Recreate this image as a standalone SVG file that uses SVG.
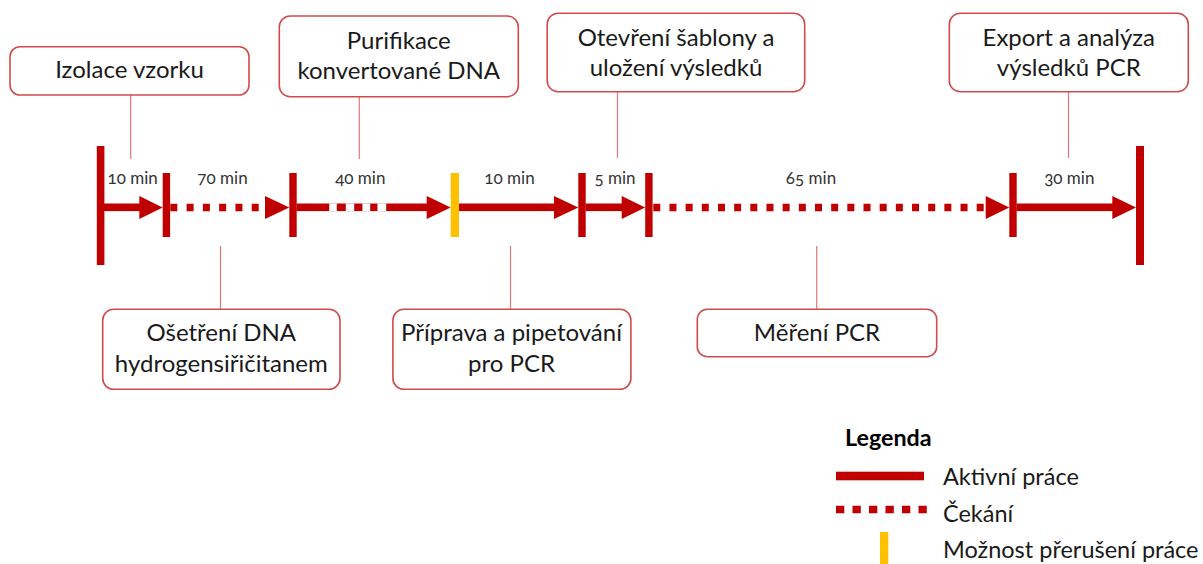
<svg xmlns="http://www.w3.org/2000/svg" width="1203" height="564" viewBox="0 0 1203 564">
<style>
.box{fill:#fff;stroke:#D24B4B;stroke-width:1.6}
.lbl{font-family:Lato,"Noto Sans",sans-serif;font-size:24px;fill:#1a1a1a;text-anchor:middle}
.dur{font-family:Lato,"Noto Sans",sans-serif;font-size:17px;fill:#333;text-anchor:middle;font-variant-numeric:oldstyle-nums}
.leg{font-family:Lato,"Noto Sans",sans-serif;font-size:23.5px;fill:#1a1a1a}
.legh{font-family:Lato,"Noto Sans",sans-serif;font-size:23.3px;font-weight:bold;fill:#000}
.pin{stroke:#E07878;stroke-width:1.2;fill:none}
.red{fill:#C00000}
.yel{fill:#FFC000}
.dot{stroke:#C00000;stroke-width:7.5;fill:none}
.gap{fill:#fff;stroke:#ddd;stroke-width:0.5}
</style>
<g id="connectors">
<line class="pin" x1="130.7" y1="95" x2="130.7" y2="159"/>
<line class="pin" x1="359.3" y1="96.7" x2="359.3" y2="159"/>
<line class="pin" x1="617.5" y1="91.7" x2="617.5" y2="158"/>
<line class="pin" x1="1068.5" y1="91.7" x2="1068.5" y2="158"/>
<line class="pin" x1="220.5" y1="246" x2="220.5" y2="309.3"/>
<line class="pin" x1="510.5" y1="246" x2="510.5" y2="309.3"/>
<line class="pin" x1="816.7" y1="246" x2="816.7" y2="309.3"/>
</g>
<g id="timeline">
<rect class="red" x="96.8" y="146" width="7.6" height="119"/>
<rect class="red" x="162.7" y="173" width="7.4" height="64"/>
<rect class="red" x="289.3" y="173" width="7.4" height="64"/>
<rect class="yel" x="450.7" y="173" width="8.3" height="64"/>
<rect class="red" x="578.3" y="173" width="7.4" height="64"/>
<rect class="red" x="645.2" y="173" width="7.4" height="64"/>
<rect class="red" x="1009.3" y="173" width="7.4" height="64"/>
<rect class="red" x="1136" y="146" width="8" height="119"/>
<rect class="red" x="104" y="203.5" width="37" height="7.6"/>
<polygon class="red" points="139.3,196 139.3,219 162.7,207.5"/>
<line class="dot" x1="170.3" y1="207.5" x2="260" y2="207.5" stroke-dasharray="7 9.28"/>
<polygon class="red" points="265,196 265,219 289.3,207.5"/>
<rect class="red" x="296.5" y="203.5" width="132" height="7.6"/>
<rect class="gap" x="329.3" y="203.5" width="7.4" height="7.6"/>
<rect class="gap" x="346" y="203.5" width="8" height="7.6"/>
<rect class="gap" x="362.7" y="203.5" width="7.3" height="7.6"/>
<rect class="gap" x="377.7" y="203.5" width="8.3" height="7.6"/>
<polygon class="red" points="426.7,196 426.7,219 450.7,207.5"/>
<rect class="red" x="459" y="203.5" width="96" height="7.6"/>
<polygon class="red" points="554,196 554,219 578.3,207.5"/>
<rect class="red" x="585.5" y="203.5" width="37" height="7.6"/>
<polygon class="red" points="621.7,196 621.7,219 645.2,207.5"/>
<line class="dot" x1="653.3" y1="207.5" x2="984" y2="207.5" stroke-dasharray="7 9.17"/>
<polygon class="red" points="985.7,196 985.7,219 1009.3,207.5"/>
<rect class="red" x="1016.5" y="203.5" width="97" height="7.6"/>
<polygon class="red" points="1112.3,196 1112.3,219 1136,207.5"/>
<text class="dur" x="132.7" y="184">10 min</text>
<text class="dur" x="222.5" y="184">70 min</text>
<text class="dur" x="360.3" y="184">40 min</text>
<text class="dur" x="509.5" y="184">10 min</text>
<text class="dur" x="615" y="184">5 min</text>
<text class="dur" x="811" y="184">65 min</text>
<text class="dur" x="1069.3" y="184">30 min</text>
</g>
<g id="n-izolace">
<rect class="box" x="10" y="46.7" width="239" height="48.3" rx="10"/>
<text class="lbl" x="129.5" y="78">Izolace vzorku</text>
</g>
<g id="n-purifikace">
<rect class="box" x="279.3" y="16" width="239" height="80.7" rx="11"/>
<text class="lbl" x="398.8" y="48.5">Purifikace</text>
<text class="lbl" x="398.8" y="78.5">konvertované DNA</text>
</g>
<g id="n-otevreni">
<rect class="box" x="547.2" y="13.3" width="257.5" height="78.4" rx="11"/>
<text class="lbl" x="676" y="46">Otevření šablony a</text>
<text class="lbl" x="676" y="76">uložení výsledků</text>
</g>
<g id="n-export">
<rect class="box" x="949.3" y="13.3" width="239" height="78.4" rx="11"/>
<text class="lbl" x="1068.8" y="46">Export a analýza</text>
<text class="lbl" x="1068.8" y="76">výsledků PCR</text>
</g>
<g id="n-osetreni">
<rect class="box" x="102.7" y="309.3" width="237.3" height="80" rx="11"/>
<text class="lbl" x="221.3" y="341">Ošetření DNA</text>
<text class="lbl" x="221.3" y="371.7">hydrogensiřičitanem</text>
</g>
<g id="n-priprava">
<rect class="box" x="392.9" y="309.3" width="238" height="80" rx="11"/>
<text class="lbl" x="511.5" y="341">Příprava a pipetování</text>
<text class="lbl" x="511.5" y="371.7">pro PCR</text>
</g>
<g id="n-mereni">
<rect class="box" x="697.3" y="309.3" width="239.4" height="47.4" rx="10"/>
<text class="lbl" x="817" y="340.7">Měření PCR</text>
</g>
<g id="legend">
<text class="legh" x="845" y="446">Legenda</text>
<rect class="red" x="836" y="471.7" width="88" height="8.6"/>
<text class="leg" x="943" y="485">Aktivní práce</text>
<line stroke="#C00000" stroke-width="7.5" x1="836" y1="509.5" x2="927" y2="509.5" stroke-dasharray="8.3 8.2"/>
<text class="leg" x="943" y="521.7">Čekání</text>
<rect class="yel" x="880" y="532" width="8.3" height="32"/>
<text class="leg" x="943" y="558.3">Možnost přerušení práce</text>
</g>
</svg>
